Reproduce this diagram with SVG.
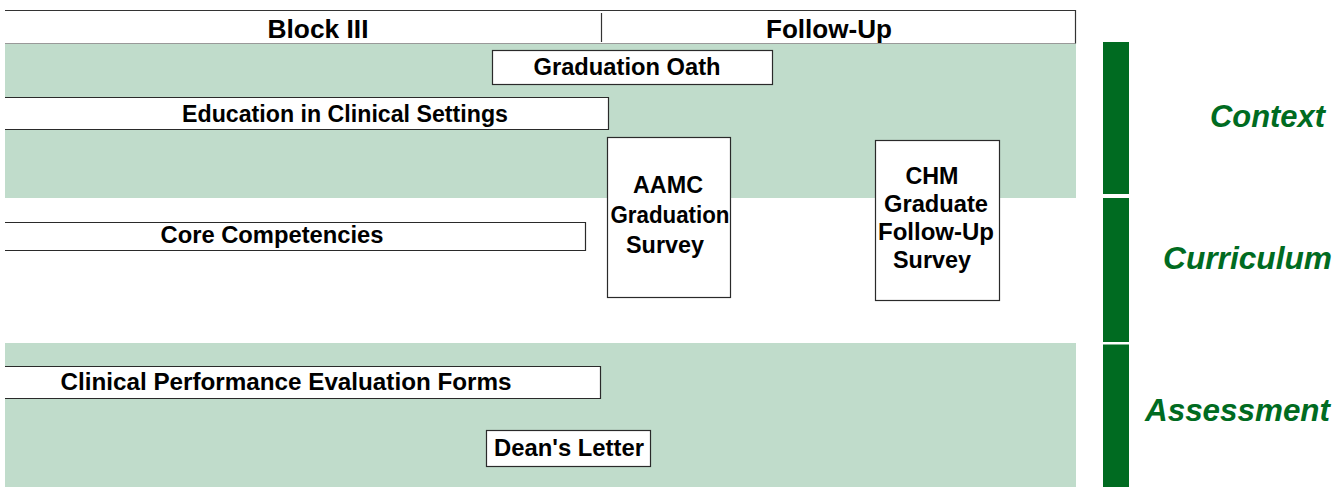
<svg xmlns="http://www.w3.org/2000/svg" width="1337" height="487" viewBox="0 0 1337 487">
<style>
.band{fill:#c0dccb}
.box{fill:#fff;stroke:#2a2a2a;stroke-width:1.2}
.t{font-family:"Liberation Sans",Arial,sans-serif;font-weight:bold;font-size:23px;fill:#000;text-anchor:middle}
.h{font-size:26px}
.bar{fill:#006b21}
.lab{font-family:"Liberation Sans",Arial,sans-serif;font-weight:bold;font-style:italic;font-size:31px;fill:#006b21;text-anchor:end}
</style>
<rect width="1337" height="487" fill="#fff"/>
<g id="bands">
<rect class="band" x="5" y="43" width="1071" height="155"/>
<rect class="band" x="5" y="343" width="1071" height="144"/>
</g>
<g id="header">
<path d="M5 10.5H1075.5V43.5" fill="none" stroke="#333" stroke-width="1.2"/>
<path d="M5 43.5H1075" fill="none" stroke="#999" stroke-width="1"/>
<path d="M601.5 13V42" stroke="#333" stroke-width="1.2"/>
<text class="t h" x="318" y="38" textLength="101" lengthAdjust="spacingAndGlyphs">Block III</text>
<text class="t h" x="829" y="38" textLength="126" lengthAdjust="spacingAndGlyphs">Follow-Up</text>
</g>
<g id="oath">
<rect class="box" x="492.5" y="50.5" width="280" height="34"/>
<text class="t" x="627" y="75" textLength="187" lengthAdjust="spacingAndGlyphs">Graduation Oath</text>
</g>
<g id="education">
<path class="box" d="M5 97.5H608.5V129.5H5"/>
<text class="t" x="345" y="121.5" textLength="326" lengthAdjust="spacingAndGlyphs">Education in Clinical Settings</text>
</g>
<g id="aamc">
<rect class="box" x="607.5" y="137.5" width="123" height="160"/>
<text class="t" x="668" y="193" textLength="70" lengthAdjust="spacingAndGlyphs">AAMC</text>
<text class="t" x="670" y="223" textLength="119" lengthAdjust="spacingAndGlyphs">Graduation</text>
<text class="t" x="665" y="253" textLength="78" lengthAdjust="spacingAndGlyphs">Survey</text>
</g>
<g id="chm">
<rect class="box" x="875.5" y="140.5" width="124" height="160"/>
<text class="t" x="932" y="184" textLength="53" lengthAdjust="spacingAndGlyphs">CHM</text>
<text class="t" x="936" y="212" textLength="104" lengthAdjust="spacingAndGlyphs">Graduate</text>
<text class="t" x="936" y="240" textLength="116" lengthAdjust="spacingAndGlyphs">Follow-Up</text>
<text class="t" x="932" y="268" textLength="78" lengthAdjust="spacingAndGlyphs">Survey</text>
</g>
<g id="core">
<path class="box" d="M5 222.5H585.5V250.5H5"/>
<text class="t" x="272" y="243" textLength="223" lengthAdjust="spacingAndGlyphs">Core Competencies</text>
</g>
<g id="clinical">
<path class="box" d="M5 366.5H600.5V398.5H5"/>
<text class="t" x="286" y="390" textLength="451" lengthAdjust="spacingAndGlyphs">Clinical Performance Evaluation Forms</text>
</g>
<g id="deans">
<rect class="box" x="486.5" y="430.5" width="164" height="36"/>
<text class="t" x="569" y="456" textLength="150" lengthAdjust="spacingAndGlyphs">Dean's Letter</text>
</g>
<g id="sidebar">
<rect class="bar" x="1103" y="42" width="26" height="152"/>
<rect class="bar" x="1103" y="198" width="26" height="144"/>
<rect class="bar" x="1103" y="344.5" width="26" height="142.5"/>
<text class="lab" x="1325" y="127" textLength="115" lengthAdjust="spacingAndGlyphs">Context</text>
<text class="lab" x="1332" y="269" textLength="169" lengthAdjust="spacingAndGlyphs">Curriculum</text>
<text class="lab" x="1330" y="421" textLength="185" lengthAdjust="spacingAndGlyphs">Assessment</text>
</g>
<g id="connectors"></g>
</svg>
